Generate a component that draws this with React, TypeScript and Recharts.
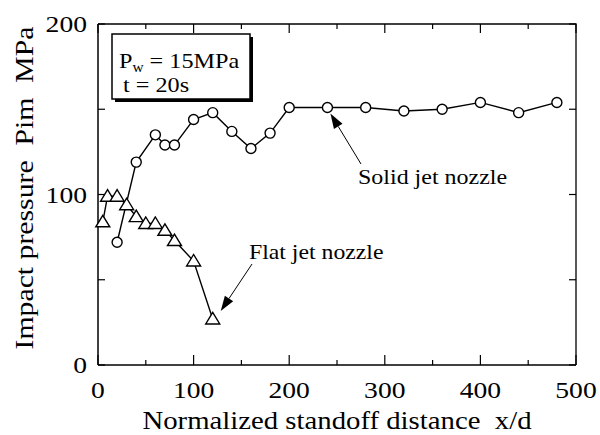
import { LineChart, Line, XAxis, YAxis, Customized } from 'recharts';

// impact pressure vs standoff distance
const solidX = [20, 40, 60, 70, 80, 100, 120, 140, 160, 180, 200, 240, 280, 320, 360, 400, 440, 480];
const solidY = [72, 119, 135, 129, 129, 144, 148, 137, 127, 136, 151, 151, 151, 149, 150, 154, 148, 154];
const flatX = [5, 10, 20, 30, 40, 50, 60, 70, 80, 100, 120];
const flatY = [84, 99, 99, 94, 87, 83, 83, 79, 73, 61, 27];

const xTicks = [0, 50, 100, 150, 200, 250, 300, 350, 400, 450, 500];
const yTicks = [0, 50, 100, 150, 200];

const solidData = solidX.map((x, i) => ({ x, y: solidY[i] }));
const flatData = flatX.map((x, i) => ({ x, y: flatY[i] }));

const FONT = "'Liberation Serif', 'Times New Roman', serif";
const W = 600;
const H = 435;
const M = { top: 24, right: 24, left: 0, bottom: 0 };
const Y_W = 98;
const X_H = 70;

// plot box, same numbers the chart uses
const PL = M.left + Y_W;
const PR = W - M.right;
const PT = M.top;
const PB = H - X_H;
const px = (v: number) => PL + (v / 500) * (PR - PL);
const py = (v: number) => PB - (v / 200) * (PB - PT);

const txt = { fontFamily: FONT, fill: '#000', whiteSpace: 'pre' as const };

const BottomTick = (p: any) => {
  const v = p.payload.value;
  const major = v % 100 === 0;
  return (
    <g>
      <line x1={p.x} y1={PB} x2={p.x} y2={PB - (major ? 10 : 5)} stroke="#000" strokeWidth={1.2} />
      {major && (
        <text transform={`translate(${p.x},${PB + 33}) scale(1.2,1)`} textAnchor="middle" fontSize={23} style={txt}>
          {v}
        </text>
      )}
    </g>
  );
};

const LeftTick = (p: any) => {
  const v = p.payload.value;
  return (
    <g>
      <line x1={PL} y1={p.y} x2={PL + 7} y2={p.y} stroke="#000" strokeWidth={1.2} />
      {v % 100 === 0 && (
        <text transform={`translate(${PL - 11},${p.y + 8}) scale(1.2,1)`} textAnchor="end" fontSize={23} style={txt}>
          {v}
        </text>
      )}
    </g>
  );
};

const Triangle = (p: any) => {
  const { cx, cy, index } = p;
  if (cx == null || cy == null) return <g key={index} />;
  return (
    <polygon
      key={index}
      points={`${cx},${cy - 6.5} ${cx - 7},${cy + 5} ${cx + 7},${cy + 5}`}
      fill="#fff"
      stroke="#000"
      strokeWidth={1.4}
    />
  );
};

const Arrow = ({ x1, y1, x2, y2 }: { x1: number; y1: number; x2: number; y2: number }) => {
  const a = Math.atan2(y2 - y1, x2 - x1);
  const len = 15;
  const hw = 5;
  const bx = x2 - len * Math.cos(a);
  const by = y2 - len * Math.sin(a);
  const nx = -Math.sin(a) * hw;
  const ny = Math.cos(a) * hw;
  return (
    <g>
      <line x1={x1} y1={y1} x2={bx} y2={by} stroke="#000" strokeWidth={1} />
      <polygon points={`${x2},${y2} ${bx + nx},${by + ny} ${bx - nx},${by - ny}`} fill="#000" />
    </g>
  );
};

const Notes = () => {
  // top and right edges of the frame, ticks pointing inward
  const frame = [
    <path key="edge" d={`M${PL},${PT} H${PR} V${PB}`} fill="none" stroke="#000" strokeWidth={1.3} />,
    ...xTicks.map((t) => (
      <path key={'t' + t} d={`M${px(t)},${PT} V${PT + (t % 100 === 0 ? 9 : 5)}`} stroke="#000" strokeWidth={1.2} />
    )),
    ...yTicks.map((t) => (
      <path key={'r' + t} d={`M${PR},${py(t)} H${PR - 7}`} stroke="#000" strokeWidth={1.2} />
    )),
  ];
  return (
    <g>
      {frame}
      {/* condition box with drop shadow */}
      <rect x={115} y={37} width={138} height={65} fill="#000" />
      <rect x={112} y={34} width={138} height={65} fill="#fff" stroke="#000" strokeWidth={1.5} />
      <g transform="translate(119,68) scale(1.1,1)">
        <text x={0} y={0} fontSize={22} style={txt}>
          P<tspan dy={4} fontSize={14}>w</tspan>
          <tspan dy={-4}> = 15MPa</tspan>
        </text>
      </g>
      <g transform="translate(123,92) scale(1.1,1)">
        <text x={0} y={0} fontSize={22} style={txt}>t = 20s</text>
      </g>

      <g transform="translate(358,184) scale(1.09,1)">
        <text x={0} y={0} fontSize={22} style={txt}>Solid jet nozzle</text>
      </g>
      <Arrow x1={361} y1={164} x2={px(240) + 3} y2={py(151) + 6} />

      <g transform="translate(249,259) scale(1.08,1)">
        <text x={0} y={0} fontSize={22} style={txt}>Flat jet nozzle</text>
      </g>
      <Arrow x1={252} y1={264} x2={px(120) + 8} y2={py(27) - 8} />

      <g transform={`translate(${(PL + PR) / 2},429) scale(1.15,1)`}>
        <text x={0} y={0} fontSize={25} textAnchor="middle" style={txt}>
          {'Normalized standoff distance  x/d'}
        </text>
      </g>
      <g transform="translate(33,188) rotate(-90) scale(1.19,1)">
        <text x={0} y={0} fontSize={25} textAnchor="middle" style={txt}>
          {'Impact pressure  Pim  MPa'}
        </text>
      </g>
    </g>
  );
};

export default function App() {
  return (
    <div style={{ position: 'absolute', left: 0, top: 0, width: W, height: H, background: '#fff' }}>
      <LineChart width={W} height={H} margin={M}>
        <XAxis
          type="number"
          dataKey="x"
          domain={[0, 500]}
          ticks={xTicks}
          height={X_H}
          tickSize={0}
          tickMargin={0}
          axisLine={{ stroke: '#000', strokeWidth: 1.5 }}
          tick={BottomTick}
          interval={0}
        />
        <YAxis
          type="number"
          domain={[0, 200]}
          ticks={yTicks}
          width={Y_W}
          tickSize={0}
          tickMargin={0}
          axisLine={{ stroke: '#000', strokeWidth: 1.5 }}
          tick={LeftTick}
          interval={0}
        />
        <Line
          data={flatData}
          dataKey="y"
          stroke="#000"
          strokeWidth={1.4}
          dot={Triangle}
          activeDot={false}
          isAnimationActive={false}
        />
        <Line
          data={solidData}
          dataKey="y"
          stroke="#000"
          strokeWidth={1.4}
          dot={{ r: 5, fill: '#fff', stroke: '#000', strokeWidth: 1.4 }}
          activeDot={false}
          isAnimationActive={false}
        />
        <Customized component={Notes} />
      </LineChart>
    </div>
  );
}
